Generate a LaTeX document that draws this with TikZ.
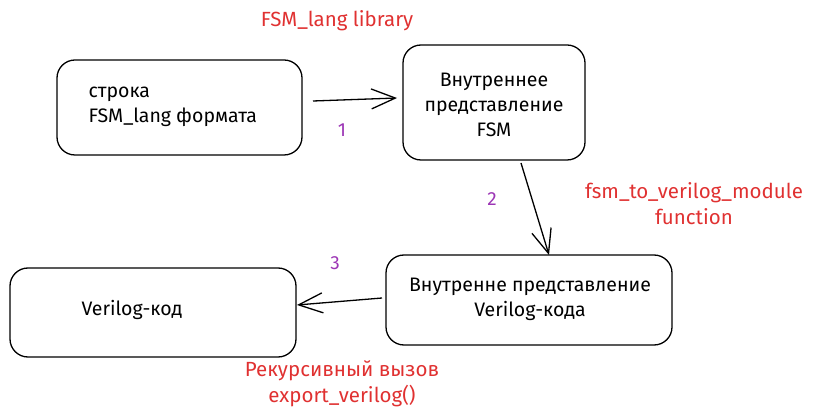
\documentclass[tikz,border=0pt]{standalone}
\usepackage{fontspec}
\setmainfont{Fira Sans}
\usetikzlibrary{arrows.meta}
\definecolor{exred}{HTML}{E03131}
\definecolor{expurple}{HTML}{9C36B5}
\tikzset{
  box/.style={draw=black, line width=1.3pt, rounded corners=18pt},
  boxtext/.style={font=\fontsize{19.5}{25}\selectfont, align=center, text=black},
  redtext/.style={font=\fontsize{20.5}{26}\selectfont, align=center, text=exred},
  numtext/.style={font=\fontsize{19}{20}\selectfont, text=expurple},
  conn/.style={draw=black, line width=1.3pt, -{Straight Barb[length=24pt,width=20pt,line width=1.3pt]}},
}
\begin{document}
\begin{tikzpicture}[x=1pt,y=-1pt]
\useasboundingbox (0,0) rectangle (819,419);
% boxes
\draw[box] (57,60) rectangle (302,155);
\draw[box] (403,45) rectangle (585,160);
\draw[box] (386,255) rectangle (672,345);
\draw[box] (10,268) rectangle (296,357);
% anchors
\coordinate (b1e) at (313,101);
\coordinate (b2w) at (397,98);
\coordinate (b2s) at (521,163);
\coordinate (b3n) at (549,255);
\coordinate (b3w) at (382,298);
\coordinate (b4e) at (297,305);
% texts
\node[boxtext, align=left, anchor=west] (t1) at (85,107) {строка\\FSM\_lang формата};
\node[boxtext] (t2) at (494,105) {Внутреннее\\представление\\FSM};
\node[boxtext] (t3) at (530,299) {Внутренне представление\\Verilog-кода};
\node[boxtext] (t4) at (132,310) {Verilog-код};
\node[redtext] (r1) at (337,21) {FSM\_lang library};
\node[redtext] (r2) at (694,204) {fsm\_to\_verilog\_module\\function};
\node[redtext] (r3) at (342,384) {Рекурсивный вызов\\export\_verilog()};
\node[numtext] (n1) at (342,130) {1};
\node[numtext] (n2) at (492,199) {2};
\node[numtext] (n3) at (335,263) {3};
% connectors
\draw[conn] (b1e) -- (b2w);
\draw[conn] (b2s) -- (b3n);
\draw[conn] (b3w) -- (b4e);
\end{tikzpicture}
\end{document}
